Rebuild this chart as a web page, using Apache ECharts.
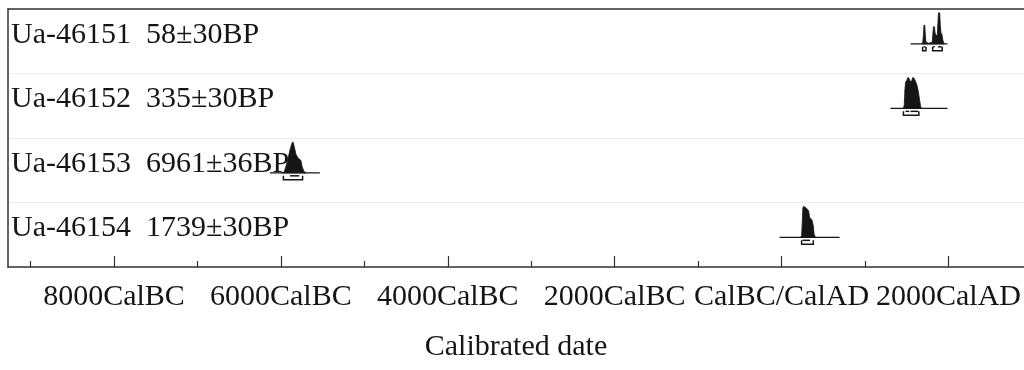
<!DOCTYPE html>
<html>
<head>
<meta charset="utf-8">
<script src="https://cdn.jsdelivr.net/npm/echarts@6/dist/echarts.min.js"></script>
<style>
  html, body { margin: 0; padding: 0; background: #fff; }
  #chart { width: 1024px; height: 370px; }
</style>
</head>
<body>
<div id="chart"></div>
<script>
// sample names and radiocarbon ages
const sampleIds = ["Ua-46151", "Ua-46152", "Ua-46153", "Ua-46154"];
const sampleAges = ["58±30BP", "335±30BP", "6961±36BP", "1739±30BP"];

// calibrated probability (year, relative density)
const probs46151 = [[1680, 0], [1692, 0.05], [1700, 0.3], [1706, 0.6], [1716, 0.6], [1722, 0.3], [1730, 0.06], [1760, 0.02], [1805, 0.05], [1812, 0.3], [1820, 0.55], [1832, 0.55], [1840, 0.35], [1852, 0.25], [1866, 0.3], [1874, 0.7], [1880, 1.0], [1895, 1.0], [1902, 0.6], [1910, 0.35], [1922, 0.3], [1932, 0.12], [1948, 0]];
const probs46152 = [[1460, 0], [1470, 0.1], [1478, 0.6], [1486, 0.85], [1500, 0.9], [1515, 1.0], [1530, 0.95], [1545, 0.85], [1560, 0.9], [1575, 1.0], [1592, 0.95], [1608, 0.85], [1622, 0.75], [1638, 0.55], [1652, 0.3], [1665, 0.08], [1675, 0]];
const probs46153 = [[-5990, 0], [-5960, 0.03], [-5940, 0.2], [-5915, 0.45], [-5890, 0.75], [-5865, 0.97], [-5855, 1.0], [-5840, 0.85], [-5820, 0.6], [-5800, 0.5], [-5780, 0.45], [-5760, 0.4], [-5745, 0.2], [-5725, 0.05], [-5700, 0]];
const probs46154 = [[225, 0], [240, 0.05], [248, 0.5], [255, 0.95], [265, 1.0], [280, 0.97], [295, 0.95], [310, 0.9], [325, 0.85], [335, 0.65], [350, 0.6], [365, 0.55], [378, 0.4], [390, 0.1], [405, 0]];
const probs = [probs46151, probs46152, probs46153, probs46154];

// extent of each baseline (years)
const baseSpans = [[1545, 1988], [1305, 1988], [-6132, -5533], [-24, 695]];

// 68.2% and 95.4% ranges
const range68 = [[[1700, 1722], [1815, 1835], [1875, 1918]], [[1485, 1530], [1545, 1635]], [[-5890, -5780]], [[250, 340]]];
const range95 = [[[1690, 1730], [1810, 1925]], [[1460, 1645]], [[-5970, -5740]], [[240, 380]]];

// axis ticks
const majorTicks = [-8000, -6000, -4000, -2000, 0, 2000];
const majorLabels = ["8000CalBC", "6000CalBC", "4000CalBC", "2000CalBC", "CalBC/CalAD", "2000CalAD"];
const minorTicks = [-9000, -7000, -5000, -3000, -1000, 1000];

const X_MIN = -9270;
const X_MAX = 2905;
const BASE = 0.54;   // baseline within a row
const PEAK = 0.48;   // height of a full-density peak
const FONT = "Liberation Serif, Times New Roman, serif";
const INK = "#151515";
const FRAME = "#333";

const chart = echarts.init(document.getElementById("chart"));

const renderRow = (params, api) => {
  const i = params.dataIndex;
  const base = i + BASE;
  const pts = probs[i].map(([yr, d]) => api.coord([yr, base - d * PEAK]));
  const left = api.coord([X_MIN, base]);
  const s0 = api.coord([baseSpans[i][0], base]);
  const s1 = api.coord([baseSpans[i][1], base]);
  const children = [
    {
      type: "text",
      x: left[0] + 3,
      y: left[1] - 9,
      style: {
        text: sampleIds[i] + "  " + sampleAges[i],
        font: "30px " + FONT,
        fill: INK,
        verticalAlign: "middle",
        align: "left",
      },
    },
    {
      type: "polygon",
      shape: { points: pts },
      style: { fill: INK, stroke: INK, lineWidth: 0.8 },
    },
    {
      type: "line",
      shape: { x1: s0[0], y1: s0[1], x2: s1[0], y2: s1[1] },
      style: { stroke: INK, lineWidth: 1.4 },
    },
  ];
  range68[i].forEach(([a, b]) => {
    const p = api.coord([a, base]);
    const q = api.coord([b, base]);
    children.push({
      type: "line",
      shape: { x1: p[0], y1: p[1] + 3, x2: q[0], y2: q[1] + 3 },
      style: { stroke: INK, lineWidth: 1.5 },
    });
  });
  range95[i].forEach(([a, b]) => {
    const p = api.coord([a, base]);
    const q = api.coord([b, base]);
    children.push({
      type: "polyline",
      shape: {
        points: [
          [p[0], p[1] + 3],
          [p[0], p[1] + 7],
          [q[0], q[1] + 7],
          [q[0], q[1] + 3],
        ],
      },
      style: { stroke: INK, lineWidth: 1.5, fill: null },
    });
  });
  return { type: "group", children };
};

const option = {
  animation: false,
  grid: {
    left: 8,
    right: 0,
    top: 9,
    bottom: 103,
  },
  xAxis: [
    {
      type: "value",
      min: X_MIN,
      max: X_MAX,
      position: "bottom",
      name: "Calibrated date",
      nameLocation: "middle",
      nameGap: 65,
      nameTextStyle: { fontFamily: FONT, fontSize: 30, color: INK },
      axisLine: { show: true, onZero: false, lineStyle: { color: FRAME, width: 1.5 } },
      axisTick: { show: true, inside: true, length: 11, customValues: majorTicks, lineStyle: { color: FRAME, width: 1.2 } },
      axisLabel: {
        show: true,
        customValues: majorTicks,
        margin: 15,
        fontFamily: FONT,
        fontSize: 30,
        color: INK,
        formatter: (v) => majorLabels[majorTicks.indexOf(v)] ?? "",
      },
      splitLine: { show: false },
    },
    {
      type: "value",
      min: X_MIN,
      max: X_MAX,
      position: "bottom",
      axisLine: { show: false, onZero: false },
      axisTick: { show: true, inside: true, length: 6, customValues: minorTicks, lineStyle: { color: FRAME, width: 1.2 } },
      axisLabel: { show: false },
      splitLine: { show: false },
    },
    {
      type: "value",
      min: X_MIN,
      max: X_MAX,
      position: "top",
      axisLine: { show: true, onZero: false, lineStyle: { color: FRAME, width: 1.5 } },
      axisTick: { show: false },
      axisLabel: { show: false },
      splitLine: { show: false },
    },
  ],
  yAxis: {
    type: "value",
    min: 0,
    max: 4,
    interval: 1,
    inverse: true,
    position: "left",
    axisLine: { show: true, onZero: false, lineStyle: { color: FRAME, width: 1.5 } },
    axisTick: { show: false },
    axisLabel: { show: false },
    splitLine: { show: true, lineStyle: { color: "#ececec", width: 1 } },
  },
  series: [
    {
      type: "custom",
      xAxisIndex: 0,
      renderItem: renderRow,
      data: sampleIds.map((_, i) => [baseSpans[i][0], i + BASE]),
      silent: true,
    },
  ],
};

chart.setOption(option);
</script>
</body>
</html>
